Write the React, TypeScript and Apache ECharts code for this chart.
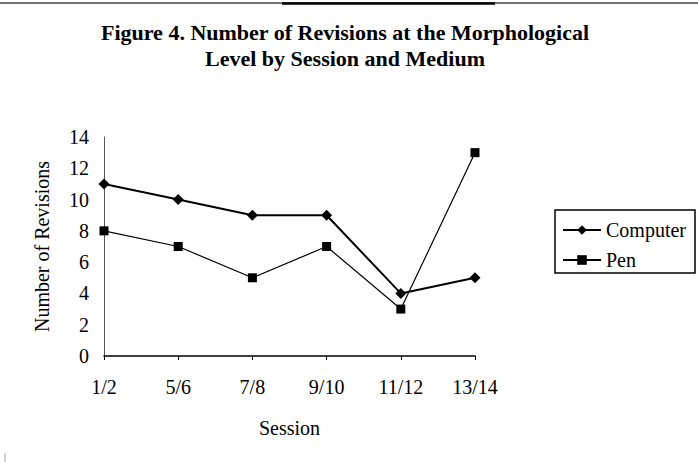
import React, { useEffect, useRef } from "react";
import * as echarts from "echarts";

const sessions = ["1/2", "5/6", "7/8", "9/10", "11/12", "13/14"];
const computerValues = [11, 10, 9, 9, 4, 5];
const penValues = [8, 7, 5, 7, 3, 13];
const titleLines = [
  "Figure 4. Number of Revisions at the Morphological",
  "Level by Session and Medium",
];
const FONT = "'Liberation Serif', 'Times New Roman', serif";

export default function App() {
  const ref = useRef<HTMLDivElement>(null);
  useEffect(() => {
    if (!ref.current) return;
    const chart = echarts.init(ref.current, null, { renderer: "svg" });
    chart.setOption({
      animation: false,
      backgroundColor: "#fff",
      title: {
        text: titleLines.join("\n"),
        left: 345,
        top: 19,
        textAlign: "center",
        padding: 0,
        textStyle: {
          fontFamily: FONT,
          fontWeight: "bold",
          fontSize: 22,
          lineHeight: 26,
          color: "#000",
        },
      },
      grid: { left: 104, right: 223, top: 137, bottom: 106, containLabel: false },
      legend: {
        orient: "vertical",
        left: 555,
        top: 210,
        padding: [10, 9, 3, 7],
        itemGap: 10,
        itemWidth: 38,
        itemHeight: 12,
        borderColor: "#000",
        borderWidth: 1.5,
        textStyle: { fontFamily: FONT, fontSize: 20, color: "#000" },
        data: ["Computer", "Pen"],
      },
      xAxis: {
        type: "category",
        data: sessions,
        boundaryGap: false,
        name: "Session",
        nameLocation: "middle",
        nameGap: 62,
        nameTextStyle: { fontFamily: FONT, fontSize: 20, color: "#000" },
        axisLine: { lineStyle: { color: "#000", width: 1.5 } },
        axisTick: { show: true, length: 4, lineStyle: { color: "#000" } },
        axisLabel: { fontFamily: FONT, fontSize: 20, color: "#000", margin: 21 },
        splitLine: { show: false },
      },
      yAxis: {
        type: "value",
        min: 0,
        max: 14,
        interval: 2,
        name: "Number of Revisions",
        nameLocation: "middle",
        nameGap: 52,
        nameTextStyle: { fontFamily: FONT, fontSize: 20, color: "#000" },
        axisLine: { show: true, lineStyle: { color: "#555", width: 1 } },
        axisTick: { show: false },
        axisLabel: { fontFamily: FONT, fontSize: 20, color: "#000", margin: 15 },
        splitLine: { show: false },
      },
      series: [
        {
          name: "Computer",
          type: "line",
          data: computerValues,
          symbol: "diamond",
          symbolSize: 11,
          lineStyle: { color: "#000", width: 2 },
          itemStyle: { color: "#000" },
        },
        {
          name: "Pen",
          type: "line",
          data: penValues,
          symbol: "rect",
          symbolSize: 9,
          lineStyle: { color: "#000", width: 1.2 },
          itemStyle: { color: "#000" },
        },
      ],
      graphic: [
        {
          type: "line",
          shape: { x1: 0, y1: 3, x2: 698, y2: 3 },
          style: { stroke: "#444", lineWidth: 1.5 },
        },
        {
          type: "line",
          shape: { x1: 282, y1: 3.5, x2: 495, y2: 3.5 },
          style: { stroke: "#000", lineWidth: 2.5 },
        },
        {
          type: "line",
          shape: { x1: 5, y1: 453, x2: 5, y2: 462 },
          style: { stroke: "#aaa", lineWidth: 1 },
        },
      ],
    });
    return () => chart.dispose();
  }, []);
  return (
    <div
      ref={ref}
      style={{ position: "fixed", left: 0, top: 0, width: 698, height: 462 }}
    />
  );
}
